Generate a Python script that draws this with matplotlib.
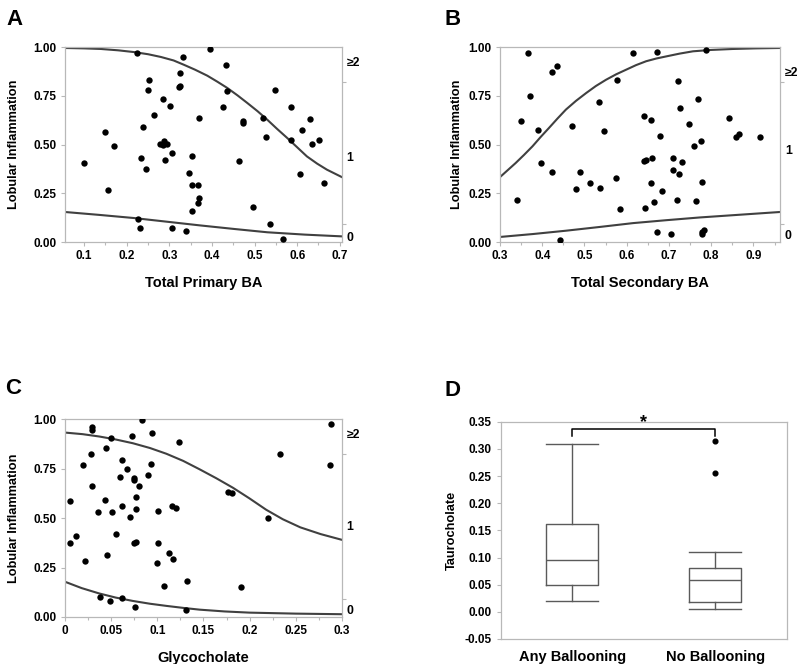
import numpy as np
import matplotlib
matplotlib.use("Agg")
import matplotlib.pyplot as plt
from matplotlib.ticker import MultipleLocator, FormatStrFormatter, FixedLocator

plt.rcParams['font.family'] = ['Liberation Sans', 'DejaVu Sans']
plt.rcParams['font.weight'] = 'bold'

# ---- panel A: Total Primary BA vs lobular inflammation
a_x = [0.225, 0.333, 0.395, 0.434, 0.253, 0.325, 0.249, 0.322, 0.326, 0.286,
       0.302, 0.435, 0.425, 0.264, 0.369, 0.239, 0.149, 0.171, 0.277, 0.287,
       0.294, 0.285, 0.305, 0.234, 0.352, 0.244, 0.289, 0.099, 0.345, 0.352,
       0.367, 0.369, 0.367, 0.352, 0.155, 0.227, 0.232, 0.307, 0.340, 0.463,
       0.473, 0.474, 0.497, 0.521, 0.527, 0.548, 0.586, 0.586, 0.537, 0.566,
       0.611, 0.631, 0.636, 0.652, 0.607, 0.662]
a_y = [0.969, 0.949, 0.991, 0.906, 0.832, 0.867, 0.778, 0.795, 0.800, 0.733,
       0.699, 0.776, 0.692, 0.653, 0.636, 0.590, 0.566, 0.494, 0.503, 0.516,
       0.504, 0.496, 0.456, 0.429, 0.439, 0.376, 0.421, 0.407, 0.356, 0.291,
       0.291, 0.226, 0.198, 0.161, 0.267, 0.118, 0.074, 0.072, 0.056, 0.414,
       0.619, 0.609, 0.178, 0.636, 0.538, 0.781, 0.692, 0.525, 0.094, 0.015,
       0.576, 0.631, 0.504, 0.521, 0.350, 0.304]
a_hi_x = [0.055, 0.100, 0.139, 0.180, 0.217, 0.250, 0.280, 0.310, 0.334, 0.360, 0.389,
          0.412, 0.436, 0.460, 0.483, 0.507, 0.530, 0.553, 0.577, 0.600, 0.623,
          0.647, 0.670, 0.705]
a_hi_y = [0.995, 0.993, 0.990, 0.983, 0.974, 0.963, 0.949, 0.931, 0.909, 0.884, 0.853,
          0.823, 0.790, 0.752, 0.713, 0.671, 0.627, 0.580, 0.533, 0.486, 0.439,
          0.402, 0.371, 0.333]
a_lo_x = [0.055, 0.136, 0.217, 0.295, 0.373, 0.452, 0.530, 0.618, 0.705]
a_lo_y = [0.154, 0.139, 0.123, 0.104, 0.085, 0.067, 0.050, 0.038, 0.029]

# ---- panel B: Total Secondary BA
b_x = [0.367, 0.422, 0.436, 0.371, 0.350, 0.391, 0.397, 0.422, 0.340, 0.442,
       0.470, 0.489, 0.481, 0.512, 0.536, 0.535, 0.546, 0.576, 0.574, 0.584,
       0.615, 0.672, 0.787, 0.642, 0.657, 0.678, 0.641, 0.645, 0.659, 0.657,
       0.684, 0.644, 0.664, 0.671, 0.704, 0.710, 0.710, 0.732, 0.725, 0.722,
       0.726, 0.748, 0.759, 0.770, 0.775, 0.763, 0.719, 0.779, 0.778, 0.783,
       0.778, 0.842, 0.859, 0.866, 0.915]
b_y = [0.969, 0.870, 0.901, 0.747, 0.622, 0.576, 0.405, 0.361, 0.217, 0.009,
       0.593, 0.361, 0.272, 0.303, 0.275, 0.716, 0.568, 0.829, 0.328, 0.169,
       0.969, 0.976, 0.986, 0.648, 0.627, 0.545, 0.414, 0.422, 0.429, 0.303,
       0.263, 0.173, 0.205, 0.051, 0.043, 0.429, 0.371, 0.409, 0.350, 0.827,
       0.689, 0.603, 0.491, 0.735, 0.518, 0.209, 0.215, 0.308, 0.053, 0.063,
       0.041, 0.636, 0.538, 0.552, 0.538]
b_hi_x = [0.300, 0.318, 0.337, 0.357, 0.377, 0.396, 0.416, 0.436, 0.456, 0.480,
          0.504, 0.527, 0.551, 0.575, 0.599, 0.622, 0.646, 0.670, 0.694, 0.725,
          0.757, 0.800, 0.852, 0.905, 0.963]
b_hi_y = [0.333, 0.368, 0.405, 0.447, 0.491, 0.538, 0.585, 0.633, 0.679, 0.724,
          0.764, 0.800, 0.832, 0.860, 0.884, 0.907, 0.927, 0.941, 0.952, 0.966,
          0.978, 0.985, 0.990, 0.993, 0.995]
b_lo_x = [0.300, 0.378, 0.456, 0.535, 0.615, 0.694, 0.773, 0.868, 0.963]
b_lo_y = [0.026, 0.041, 0.058, 0.077, 0.097, 0.112, 0.126, 0.140, 0.154]

# ---- panel C: Glycocholate
c_x = [0.0837, 0.0297, 0.0297, 0.0728, 0.0496, 0.0942, 0.1236, 0.0442, 0.0286, 0.0192,
       0.0612, 0.0667, 0.0931, 0.0591, 0.0746, 0.0746, 0.0895, 0.0801, 0.0293, 0.0764,
       0.0058, 0.0435, 0.0612, 0.0772, 0.0359, 0.0507, 0.0699, 0.1011, 0.1156, 0.1207,
       0.0554, 0.0120, 0.0054, 0.0750, 0.0772, 0.1007, 0.0460, 0.1127, 0.1170, 0.0221,
       0.1000, 0.1069, 0.1319, 0.0384, 0.0482, 0.0612, 0.0754, 0.1308, 0.1768, 0.1812,
       0.1910, 0.2196, 0.2330, 0.2884, 0.2877]
c_y = [0.998, 0.958, 0.944, 0.915, 0.903, 0.929, 0.885, 0.853, 0.822, 0.769,
       0.793, 0.749, 0.775, 0.707, 0.700, 0.690, 0.717, 0.661, 0.661, 0.608,
       0.588, 0.593, 0.561, 0.547, 0.529, 0.529, 0.503, 0.537, 0.561, 0.551,
       0.420, 0.410, 0.376, 0.373, 0.380, 0.376, 0.314, 0.325, 0.292, 0.281,
       0.275, 0.158, 0.183, 0.100, 0.081, 0.097, 0.049, 0.037, 0.632, 0.627,
       0.151, 0.498, 0.825, 0.975, 0.769]
c_hi_x = [0.0, 0.019, 0.0373, 0.055, 0.0736, 0.092, 0.1098, 0.128, 0.146, 0.164,
          0.182, 0.200, 0.218, 0.236, 0.255, 0.277, 0.300]
c_hi_y = [0.932, 0.924, 0.912, 0.897, 0.878, 0.854, 0.825, 0.789, 0.746, 0.701,
          0.653, 0.599, 0.542, 0.494, 0.453, 0.419, 0.390]
c_lo_x = [0.0, 0.018, 0.037, 0.055, 0.0736, 0.092, 0.110, 0.128, 0.146, 0.173, 0.200,
          0.250, 0.300]
c_lo_y = [0.178, 0.146, 0.119, 0.098, 0.081, 0.067, 0.056, 0.046, 0.037, 0.028, 0.022,
          0.017, 0.014]

# ---- panel D: Taurocholate box plot (summary stats)
d_groups = ['Any Ballooning', 'No Ballooning']
d_whislo = [0.020, 0.005]
d_q1 = [0.050, 0.018]
d_med = [0.095, 0.058]
d_q3 = [0.162, 0.080]
d_whishi = [0.310, 0.111]
d_fliers = [[], [0.315, 0.256]]

right_labels = ['0', '1', '\u22652']

GRAY = '#b8b8b8'
CURVE = '#404040'

fig = plt.figure(figsize=(8, 6.64), dpi=100)


def scatter_panel(rect, x, y, hi_x, hi_y, lo_x, lo_y, xlim, xmajor, xminor, xfmt,
                  xlabel, label_pos, bound_pos, ylabelpad):
    ax = fig.add_axes(rect)
    ax.plot(hi_x, hi_y, color=CURVE, lw=1.5, zorder=2)
    ax.plot(lo_x, lo_y, color=CURVE, lw=1.5, zorder=2)
    ax.scatter(x, y, s=21, color='black', zorder=3, linewidths=0)
    ax.set_xlim(*xlim)
    ax.set_ylim(0, 1)
    ax.xaxis.set_major_locator(MultipleLocator(xmajor))
    ax.xaxis.set_minor_locator(MultipleLocator(xminor))
    ax.xaxis.set_major_formatter(FormatStrFormatter(xfmt) if xfmt else
                                 plt.FuncFormatter(lambda v, p: '%g' % round(v, 3)))
    ax.set_yticks([0, 0.25, 0.5, 0.75, 1.0])
    ax.yaxis.set_major_formatter(FormatStrFormatter('%.2f'))
    for s in ax.spines.values():
        s.set_color(GRAY)
        s.set_linewidth(0.9)
    ax.tick_params(which='both', direction='out', color=GRAY, labelsize=8.5, width=0.8)
    ax.tick_params(which='major', length=3, pad=3)
    ax.tick_params(which='minor', length=2)
    ax.set_xlabel(xlabel, fontsize=10.5, fontweight='bold', labelpad=10)
    ax.set_ylabel('Lobular Inflammation', fontsize=9.2, fontweight='bold',
                  labelpad=ylabelpad)
    # right-hand ordinal axis
    ax2 = ax.twinx()
    ax2.set_ylim(0, 1)
    ax2.yaxis.set_major_locator(FixedLocator(bound_pos))
    ax2.yaxis.set_major_formatter(plt.NullFormatter())
    ax2.yaxis.set_minor_locator(FixedLocator(label_pos))
    ax2.yaxis.set_minor_formatter(plt.FixedFormatter(right_labels))
    ax2.tick_params(which='major', length=3, color=GRAY, width=0.8)
    ax2.tick_params(which='minor', length=0, pad=3.5, labelsize=8.8)
    for s in ax2.spines.values():
        s.set_visible(False)
    return ax


scatter_panel([0.0813, 0.6355, 0.346, 0.2937], a_x, a_y, a_hi_x, a_hi_y, a_lo_x, a_lo_y,
              (0.055, 0.705), 0.1, 0.05, '%.1f', 'Total Primary BA',
              [0.029, 0.439, 0.926], [0.094, 0.819], 10)
scatter_panel([0.625, 0.6355, 0.35, 0.2937], b_x, b_y, b_hi_x, b_hi_y, b_lo_x, b_lo_y,
              (0.3, 0.963), 0.1, 0.05, '%.1f', 'Total Secondary BA',
              [0.038, 0.474, 0.875], [0.094, 0.819], 4)
scatter_panel([0.0813, 0.0708, 0.346, 0.298], c_x, c_y, c_hi_x, c_hi_y, c_lo_x, c_lo_y,
              (0.0, 0.3), 0.05, 0.025, None, 'Glycocholate',
              [0.037, 0.463, 0.929], [0.090, 0.822], 10)

# ---- panel D
axd = fig.add_axes([0.626, 0.0377, 0.3575, 0.327])
stats = []
for i, g in enumerate(d_groups):
    stats.append(dict(label=g, whislo=d_whislo[i], q1=d_q1[i], med=d_med[i],
                      q3=d_q3[i], whishi=d_whishi[i], fliers=d_fliers[i]))
box_style = dict(color='#5a5a5a', linewidth=1.0)
axd.bxp(stats, positions=[1, 2], widths=0.363, showfliers=True,
        boxprops=box_style, whiskerprops=box_style, capprops=box_style,
        medianprops=box_style, capwidths=0.363,
        flierprops=dict(marker='o', markersize=3.4, markerfacecolor='black',
                        markeredgecolor='black'))
axd.set_xlim(0.5, 2.5)
axd.set_ylim(-0.05, 0.35)
axd.yaxis.set_major_locator(MultipleLocator(0.05))
axd.yaxis.set_major_formatter(FormatStrFormatter('%.2f'))
for s in axd.spines.values():
    s.set_color(GRAY)
    s.set_linewidth(0.9)
axd.tick_params(axis='y', direction='out', color=GRAY, labelsize=8.5, length=3, width=0.8)
axd.tick_params(axis='x', length=0, labelsize=10.5, pad=8)
axd.set_ylabel('Taurocholate', fontsize=9.2, fontweight='bold', labelpad=5)
# significance bracket
axd.plot([1, 1, 2, 2], [0.324, 0.336, 0.336, 0.324], color='black', lw=1.1)
axd.text(1.5, 0.333, '*', ha='center', va='bottom', fontsize=13, fontweight='bold')

# panel letters
for lx, ly, lt in [(0.008, 0.987, 'A'), (0.556, 0.987, 'B'),
                   (0.006, 0.430, 'C'), (0.556, 0.427, 'D')]:
    fig.text(lx, ly, lt, fontsize=16, fontweight='bold', ha='left', va='top')

fig.savefig('out.png', dpi=100)
